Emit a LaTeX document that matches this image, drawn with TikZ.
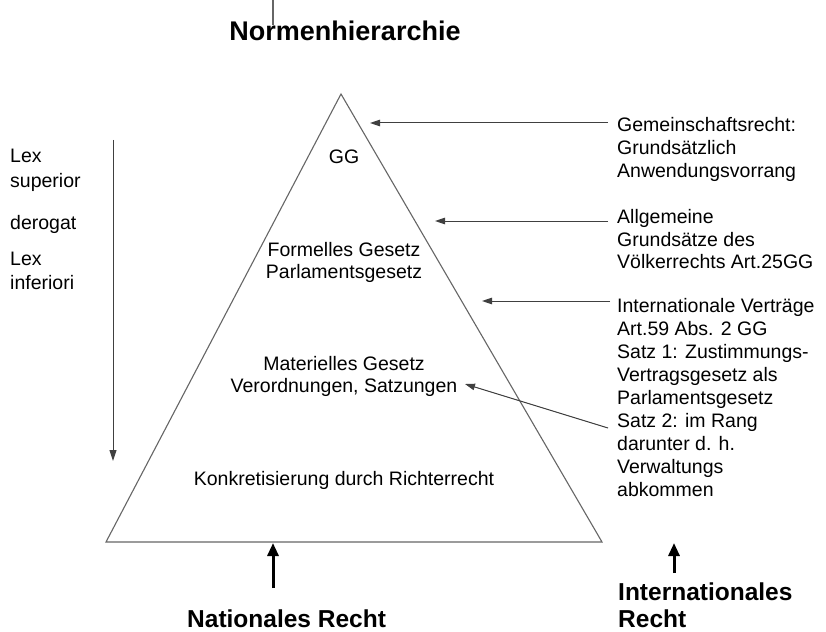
\documentclass[tikz,border=0pt]{standalone}
\usepackage{fontspec}
\setmainfont{Liberation Sans}
\usetikzlibrary{arrows.meta}
\begin{document}
\begin{tikzpicture}[x=1pt,y=-1pt,
  txt/.style={font=\fontsize{19.5}{23}\selectfont, inner sep=0pt, anchor=base west},
  ctxt/.style={font=\fontsize{19.5}{23}\selectfont, inner sep=0pt, anchor=base},
  bigtxt/.style={font=\fontsize{24.5}{28}\selectfont\bfseries, inner sep=0pt, anchor=base west},
  edge/.style={draw=black!60, line width=1.1pt},
  thinarrow/.style={draw=black!75, line width=1pt, -{Triangle[length=10pt,width=6.5pt]}},
  thickarrow/.style={draw=black, line width=3pt, -{Triangle[length=13pt,width=11pt]}}]
\useasboundingbox (0,0) rectangle (826,631);
\fill[white] (0,0) rectangle (826,631);

% top line and title
\coordinate (topA) at (273,0);
\coordinate (topB) at (273,25);
\draw[edge] (topA) -- (topB);
\node[font=\fontsize{27}{32}\selectfont\bfseries, inner sep=0pt, anchor=base] (title) at (345,41) {Normenhierarchie};

% triangle
\coordinate (apex) at (341,94);
\coordinate (bl) at (106,542);
\coordinate (br) at (602,542);
\draw[edge, line join=miter] (apex) -- (bl) -- (br) -- cycle;

% inner texts
\node[ctxt] (gg) at (344,164) {GG};
\node[ctxt] (f1) at (344,256) {Formelles Gesetz};
\node[ctxt] (f2) at (344,278) {Parlamentsgesetz};
\node[ctxt] (m1) at (344,370) {Materielles Gesetz};
\node[ctxt] (m2) at (344,392) {Verordnungen, Satzungen};
\node[ctxt] (k) at (344,485) {Konkretisierung durch Richterrecht};

% left texts and arrow
\node[txt] (l1) at (10,162) {Lex};
\node[txt] (l2) at (10,187) {superior};
\node[txt] (l3) at (10,229) {derogat};
\node[txt] (l4) at (10,265) {Lex};
\node[txt] (l5) at (10,289) {inferiori};
\coordinate (lvA) at (113,140);
\coordinate (lvB) at (113,461);
\draw[thinarrow, -{Triangle[length=11pt,width=7pt]}] (lvA) -- (lvB);

% right texts
\node[txt] (a1) at (617,132) {Gemeinschaftsrecht:};
\node[txt] (a2) at (617,155) {Grundsätzlich};
\node[txt] (a3) at (617,177.5) {Anwendungsvorrang};
\node[txt] (b1) at (617,223) {Allgemeine};
\node[txt] (b2) at (617,246) {Grundsätze des};
\node[txt] (b3) at (617,268.5) {Völkerrechts Art.25GG};
\node[txt] (c1) at (617,312) {Internationale Verträge};
\node[txt] (c2) at (617,335) {Art.59 Abs. 2 GG};
\node[txt] (c3) at (617,358) {Satz 1: Zustimmungs-};
\node[txt] (c4) at (617,381) {Vertragsgesetz als};
\node[txt] (c5) at (617,404) {Parlamentsgesetz};
\node[txt] (c6) at (617,427) {Satz 2: im Rang};
\node[txt] (c7) at (617,450) {darunter d. h.};
\node[txt] (c8) at (617,473) {Verwaltungs};
\node[txt] (c9) at (617,496) {abkommen};

% right arrows
\coordinate (t1) at (608,123);
\coordinate (h1) at (370,123);
\coordinate (t2) at (608,221);
\coordinate (h2) at (435,221);
\coordinate (t3) at (610,301);
\coordinate (h3) at (482,301);
\coordinate (t4) at (608,428);
\coordinate (h4) at (465,384);
\draw[thinarrow] (t1) -- (h1);
\draw[thinarrow] (t2) -- (h2);
\draw[thinarrow] (t3) -- (h3);
\draw[thinarrow] (t4) -- (h4);

% bottom
\node[bigtxt] (nr) at (187,627) {Nationales Recht};
\node[bigtxt] (ir1) at (618,600) {Internationales};
\node[bigtxt] (ir2) at (618,627) {Recht};
\coordinate (n1) at (273,588);
\coordinate (n2) at (273,543);
\draw[thickarrow] (n1) -- (n2);
\coordinate (i1) at (674,573);
\coordinate (i2) at (674,543);
\draw[thickarrow] (i1) -- (i2);
\end{tikzpicture}
\end{document}
